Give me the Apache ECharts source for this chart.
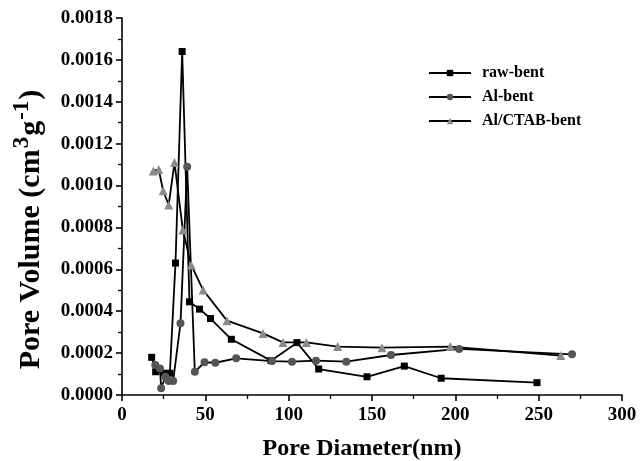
<!DOCTYPE html>
<html>
<head>
<meta charset="utf-8">
<script src="https://cdn.jsdelivr.net/npm/echarts@6/dist/echarts.min.js"></script>
<style>
  html, body { margin: 0; padding: 0; background: #fff; }
  #chart { width: 640px; height: 461px; }
</style>
</head>
<body>
<div id="chart"></div>
<script>
// pore diameter (nm) / pore volume (cm3 g-1)
const rawX = [17.8, 20.2, 22.5, 25, 28.7, 32.1, 36.1, 40.5, 46.5, 53.1, 65.6, 89.4, 105, 118, 147, 169.4, 191.5, 249]
const rawY = [0.00018, 0.000111, 0.00012, 0.000104, 0.000104, 0.00063, 0.00164, 0.000445, 0.00041, 0.000365, 0.000266, 0.000164, 0.00025, 0.000124, 0.000087, 0.000138, 0.00008, 0.000059]

const alX = [20, 22.8, 23.5, 26, 28, 30.7, 35.1, 39.1, 43.7, 49.5, 56, 68.5, 90, 102, 116.4, 134.6, 161.4, 202.3, 270]
const alY = [0.000143, 0.000127, 0.000032, 0.000087, 0.000067, 0.000067, 0.000342, 0.00109, 0.000111, 0.000156, 0.000154, 0.000175, 0.000162, 0.000159, 0.000164, 0.000159, 0.000191, 0.00022, 0.000194]

const ctX = [18.8, 22, 24.7, 28, 31.5, 36.5, 41.5, 48.7, 63, 84.6, 96.6, 110.6, 129.4, 156, 197, 263.3]
const ctY = [0.00107, 0.001077, 0.000975, 0.000907, 0.00111, 0.000788, 0.000621, 0.000501, 0.000355, 0.000294, 0.000251, 0.000251, 0.000231, 0.000226, 0.000231, 0.000188]

const seriesNames = ['raw-bent', 'Al-bent', 'Al/CTAB-bent']

const font = 'Liberation Serif'

function pairs(xs, ys) {
  return xs.map((x, i) => [x, ys[i]])
}

function makeSeries(name, data, symbol, size, color) {
  return {
    name: name,
    type: 'line',
    data: data,
    symbol: symbol,
    symbolSize: size,
    showAllSymbol: true,
    itemStyle: { color: color },
    lineStyle: { color: '#000', width: 1.8 },
    emphasis: { disabled: true },
    animation: false,
  }
}

const myChart = echarts.init(document.getElementById('chart'))

const option = {
  backgroundColor: '#fff',
  grid: {
    left: 122,
    right: 18,
    top: 18,
    bottom: 66,
    containLabel: false,
    outerBoundsMode: 'none',
  },
  legend: {
    orient: 'vertical',
    left: 423,
    top: 60,
    itemWidth: 42,
    itemHeight: 8,
    itemGap: 8,
    textStyle: {
      fontFamily: font,
      fontWeight: 'bold',
      fontSize: 16,
      color: '#000',
      padding: [0, 0, 0, 6],
    },
    data: seriesNames,
  },
  xAxis: {
    type: 'value',
    min: 0,
    max: 300,
    interval: 50,
    name: 'Pore Diameter(nm)',
    nameLocation: 'middle',
    nameGap: 42,
    nameTextStyle: {
      fontFamily: font,
      fontWeight: 'bold',
      fontSize: 24,
      color: '#000',
      padding: [0, 20, 0, 0],
    },
    axisLine: { lineStyle: { color: '#000', width: 1.6 } },
    axisTick: { inside: false, length: 6, lineStyle: { color: '#000', width: 1.6 } },
    minorTick: { show: true, splitNumber: 2, length: 4, lineStyle: { color: '#000', width: 1.3 } },
    splitLine: { show: false },
    axisLabel: {
      fontFamily: font,
      fontWeight: 'bold',
      fontSize: 19,
      color: '#000',
      margin: 11,
    },
  },
  yAxis: {
    type: 'value',
    min: 0,
    max: 0.0018,
    interval: 0.0002,
    name: 'Pore Volume (cm{sup|3}g{sup|-1})',
    nameLocation: 'middle',
    nameGap: 70,
    nameTextStyle: {
      fontFamily: font,
      fontWeight: 'bold',
      fontSize: 30,
      color: '#000',
      padding: [0, 46, 0, 0],
      rich: {
        sup: {
          fontFamily: font,
          fontWeight: 'bold',
          fontSize: 23,
          color: '#000',
          verticalAlign: 'top',
          padding: [0, 1, 18, 1],
        },
      },
    },
    axisLine: { show: true, lineStyle: { color: '#000', width: 1.6 } },
    axisTick: { show: true, inside: false, length: 6, lineStyle: { color: '#000', width: 1.6 } },
    minorTick: { show: true, splitNumber: 2, length: 4, lineStyle: { color: '#000', width: 1.3 } },
    splitLine: { show: false },
    axisLabel: {
      fontFamily: font,
      fontWeight: 'bold',
      fontSize: 19,
      color: '#000',
      margin: 9,
      formatter: (v) => v.toFixed(4),
    },
  },
  series: [
    makeSeries(seriesNames[0], pairs(rawX, rawY), 'rect', 7, '#000'),
    makeSeries(seriesNames[1], pairs(alX, alY), 'circle', 8, '#555'),
    makeSeries(seriesNames[2], pairs(ctX, ctY), 'triangle', 9, '#8a8a8a'),
  ],
}

myChart.setOption(option)
</script>
</body>
</html>
